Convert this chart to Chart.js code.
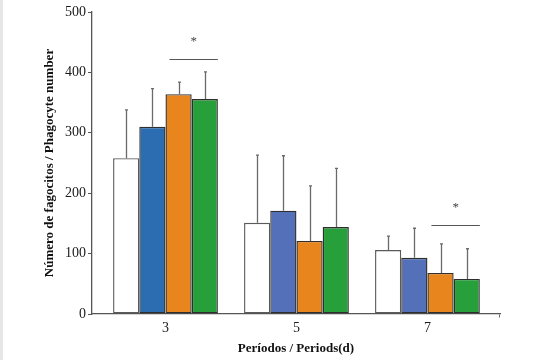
<!DOCTYPE html>
<html><head><meta charset="utf-8">
<script src="https://cdn.jsdelivr.net/npm/chart.js@4"></script>
<style>
html,body{margin:0;padding:0;background:#fff;}
body{width:541px;height:360px;overflow:hidden;position:relative;}
#strip{position:absolute;left:0;top:0;width:3px;height:360px;background:#e6e6e6;}
#wrap{position:absolute;left:0;top:0;width:541px;height:360px;}
</style></head>
<body><div id="strip"></div><div id="wrap"><canvas id="c" width="541" height="360"></canvas></div>
<script>
const periods = ['3', '5', '7'];
const groupA = [258, 151, 106];   // white
const groupB = [310, 171, 93];    // blue
const groupC = [364, 121, 68];    // orange
const groupD = [356, 144, 58];    // green
const errA = [338, 263, 129];
const errB = [373, 262, 142];
const errC = [384, 212, 116];
const errD = [401, 241, 108];
const yTicks = [0, 100, 200, 300, 400, 500];
// significance brackets: [fromDataset, toDataset, periodIndex, level]
const sigBrackets = [[2, 3, 0, 422], [2, 3, 2, 147]];

const serif = "'Liberation Serif', 'DejaVu Serif', serif";
const mk = (label, data, err, bg, border) => ({label, data: data.map((v,i)=>({x:i, y:v})), err, backgroundColor: bg, borderColor: border, borderWidth: 1.4, borderSkipped: false});

const errPlugin = {
  id: 'errbars',
  afterDatasetsDraw(chart) {
    const ctx = chart.ctx, ys = chart.scales.y;
    ctx.save();
    ctx.strokeStyle = '#6a6a6a'; ctx.lineWidth = 1.3;
    chart.data.datasets.forEach((ds, di) => {
      const meta = chart.getDatasetMeta(di);
      meta.data.forEach((bar, i) => {
        const x = Math.round(bar.x) + 0.5;
        const yt = ys.getPixelForValue(ds.err[i]);
        ctx.beginPath(); ctx.moveTo(x, bar.y); ctx.lineTo(x, yt);
        ctx.moveTo(x - 1.5, yt); ctx.lineTo(x + 1.5, yt); ctx.stroke();
      });
    });
    // brackets
    ctx.strokeStyle = '#555'; ctx.lineWidth = 1;
    ctx.fillStyle = '#444'; ctx.font = "13px " + serif; ctx.textAlign = 'center'; ctx.textBaseline = 'middle';
    sigBrackets.forEach(([a, b, p, lvl]) => {
      const ba = chart.getDatasetMeta(a).data[p], bb = chart.getDatasetMeta(b).data[p];
      const x1 = ba.x - ba.width / 2 + 4, x2 = bb.x + bb.width / 2;
      const y = Math.round(ys.getPixelForValue(lvl)) + 0.5;
      ctx.beginPath(); ctx.moveTo(x1, y); ctx.lineTo(x2, y); ctx.stroke();
      ctx.fillText('*', (x1 + x2) / 2, y - 18);
    });
    // x-axis end tick
    const xs = chart.scales.x;
    const xb = Math.round(ys.getPixelForValue(0)) + 0.5;
    ctx.strokeStyle = '#666';
    ctx.beginPath(); ctx.moveTo(xs.right - 0.5, xb); ctx.lineTo(xs.right - 0.5, xb + 3); ctx.stroke();
    ctx.restore();
  }
};

new Chart(document.getElementById('c'), {
  type: 'bar',
  data: {
    datasets: [
      mk('A', groupA, errA, '#ffffff', '#5a5a5a'),
      mk('B', groupB, errB, ['#2c6db2', '#5470b9', '#5470b9'], '#2e2e2e'),
      mk('C', groupC, errC, '#e8851d', '#2e2e2e'),
      mk('D', groupD, errD, '#27a03c', '#2e2e2e')
    ]
  },
  options: {
    responsive: false, animation: false,
    layout: {padding: {left: 38, right: 41, top: 12, bottom: 0}},
    plugins: {legend: {display: false}, tooltip: {enabled: false}},
    datasets: {bar: {categoryPercentage: 0.8, barPercentage: 1.0}},
    scales: {
      x: {
        type: 'linear', min: -0.561, max: 2.554, offset: false,
        afterBuildTicks: s => { s.ticks = periods.map((p, i) => ({value: i})); },
        afterFit: s => { s.height = 46; },
        grid: {display: true, drawOnChartArea: false, drawTicks: false, offset: false},
        border: {color: '#555', width: 1.3},
        ticks: {callback: (v) => periods[v], padding: 6, color: '#1a1a1a', font: {family: serif, size: 14}},
        title: {display: true, text: 'Períodos / Periods(d)', color: '#111', font: {family: serif, size: 13, weight: 'bold'}, padding: {top: 2, bottom: 4}}
      },
      y: {
        min: 0, max: 500,
        afterBuildTicks: s => { s.ticks = yTicks.map(v => ({value: v})); },
        afterFit: s => { s.width = 54; },
        grid: {drawOnChartArea: false, drawTicks: true, tickLength: 4, color: '#555'},
        border: {color: '#555', width: 1.3},
        ticks: {padding: 2, color: '#1a1a1a', font: {family: serif, size: 14}},
        title: {display: true, text: 'Número de fagocitos / Phagocyte number', color: '#111', font: {family: serif, size: 13, weight: 'bold'}, padding: {top: 4, bottom: 4}}
      }
    }
  },
  plugins: [errPlugin]
});
</script>
</body></html>
